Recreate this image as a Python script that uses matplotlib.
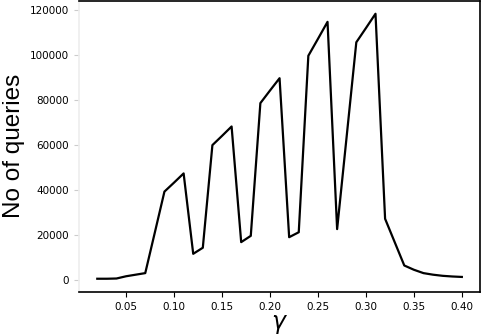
import matplotlib
matplotlib.use("Agg")
import matplotlib.pyplot as plt

gamma = [0.02, 0.03, 0.04, 0.05, 0.06, 0.07, 0.08, 0.09, 0.10, 0.11,
         0.12, 0.13, 0.14, 0.15, 0.16, 0.17, 0.18, 0.19, 0.20, 0.21,
         0.22, 0.23, 0.24, 0.25, 0.26, 0.27, 0.28, 0.29, 0.30, 0.31,
         0.32, 0.33, 0.34, 0.35, 0.36, 0.37, 0.38, 0.39, 0.40]
queries = [400, 400, 500, 1500, 2200, 2900, 21000, 39200, 43200, 47300,
           11500, 14200, 59900, 64000, 68200, 16700, 19500, 78600, 84200, 89700,
           18900, 21100, 99700, 107200, 114800, 22500, 64000, 105700, 112000, 118400,
           27100, 16700, 6300, 4400, 2900, 2200, 1700, 1400, 1200]

fig = plt.figure(figsize=(4.82, 3.36), dpi=100)
ax = fig.add_axes([0.164, 0.131, 0.832, 0.8675])
ax.plot(gamma, queries, color="black", lw=1.6)

ax.set_xticks([0.05, 0.10, 0.15, 0.20, 0.25, 0.30, 0.35, 0.40])
ax.set_xticklabels(["0.05", "0.10", "0.15", "0.20", "0.25", "0.30", "0.35", "0.40"])
ax.set_yticks(range(0, 120001, 20000))
ax.tick_params(axis="both", labelsize=7.5, length=3.5, width=0.8)
ax.tick_params(axis="y", color="#cccccc")
ax.spines["left"].set_color("#eeeeee")
ax.spines["left"].set_linewidth(1.2)
for s in ["top", "right", "bottom"]:
    ax.spines[s].set_linewidth(1.2)

ax.set_ylabel("No of queries", fontsize=17.5, family="Liberation Sans", labelpad=4)
ax.set_xlabel(r"$\gamma$", fontsize=17, labelpad=0)

fig.savefig("out.png", dpi=100)
